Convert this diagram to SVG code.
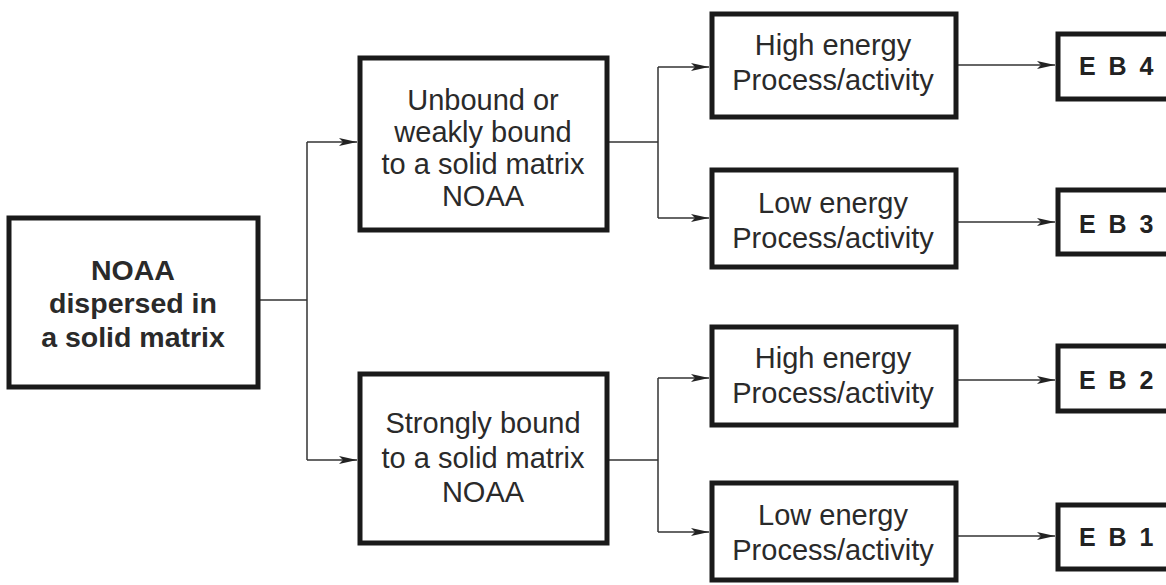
<svg xmlns="http://www.w3.org/2000/svg" width="1166" height="585" viewBox="0 0 1166 585">
<defs>
<marker id="ah" markerWidth="19" markerHeight="10" refX="18" refY="5" orient="auto" markerUnits="userSpaceOnUse">
<path d="M0,1 L18,5 L0,9 L4,5 Z" fill="#222"/>
</marker>
</defs>
<style>
.box{fill:#fff;stroke:#1a1a1a;stroke-width:5}
.t{font-family:"Liberation Sans",Arial,sans-serif;font-size:29px;fill:#2a2a2a;text-anchor:middle}
.b{font-weight:bold;font-size:28.5px}
.eb{font-family:"Liberation Sans",Arial,sans-serif;font-size:25px;font-weight:bold;fill:#222;letter-spacing:3px}
.c{fill:none;stroke:#333;stroke-width:1.5}
</style>
<rect width="1166" height="585" fill="#fff"/>
<g id="connectors">
<path class="c" d="M259,300 H307 M307,142 V460"/>
<path class="c" d="M307,142 H357" marker-end="url(#ah)"/>
<path class="c" d="M307,460 H357" marker-end="url(#ah)"/>
<path class="c" d="M608,142 H658 M658,67 V218"/>
<path class="c" d="M658,67 H709" marker-end="url(#ah)"/>
<path class="c" d="M658,218 H709" marker-end="url(#ah)"/>
<path class="c" d="M608,460 H658 M658,378 V532"/>
<path class="c" d="M658,378 H709" marker-end="url(#ah)"/>
<path class="c" d="M658,532 H709" marker-end="url(#ah)"/>
<path class="c" d="M957,65 H1055" marker-end="url(#ah)"/>
<path class="c" d="M957,222 H1055" marker-end="url(#ah)"/>
<path class="c" d="M957,380 H1055" marker-end="url(#ah)"/>
<path class="c" d="M957,536 H1055" marker-end="url(#ah)"/>
</g>
<g id="n-root">
<rect class="box" x="9" y="218" width="249" height="169"/>
<text class="t b" x="133" y="280">NOAA</text>
<text class="t b" x="133" y="313">dispersed in</text>
<text class="t b" x="133" y="347">a solid matrix</text>
</g>
<g id="n-unbound">
<rect class="box" x="360" y="58" width="247" height="172"/>
<text class="t" x="483" y="110">Unbound or</text>
<text class="t" x="483" y="142">weakly bound</text>
<text class="t" x="483" y="174">to a solid matrix</text>
<text class="t" x="483" y="206">NOAA</text>
</g>
<g id="n-strong">
<rect class="box" x="360" y="374" width="247" height="169"/>
<text class="t" x="483" y="433">Strongly bound</text>
<text class="t" x="483" y="468">to a solid matrix</text>
<text class="t" x="483" y="502">NOAA</text>
</g>
<g id="n-he1">
<rect class="box" x="712" y="14" width="244" height="103"/>
<text class="t" x="833" y="55">High energy</text>
<text class="t" x="833" y="90">Process/activity</text>
</g>
<g id="n-le1">
<rect class="box" x="712" y="170" width="244" height="97"/>
<text class="t" x="833" y="213">Low energy</text>
<text class="t" x="833" y="248">Process/activity</text>
</g>
<g id="n-he2">
<rect class="box" x="712" y="327" width="244" height="98"/>
<text class="t" x="833" y="368">High energy</text>
<text class="t" x="833" y="403">Process/activity</text>
</g>
<g id="n-le2">
<rect class="box" x="712" y="483" width="244" height="97"/>
<text class="t" x="833" y="525">Low energy</text>
<text class="t" x="833" y="560">Process/activity</text>
</g>
<g id="n-eb4">
<rect class="box" x="1058" y="34" width="120" height="65"/>
<text class="eb" x="1079" y="75">E B 4</text>
</g>
<g id="n-eb3">
<rect class="box" x="1058" y="190" width="120" height="64"/>
<text class="eb" x="1079" y="233">E B 3</text>
</g>
<g id="n-eb2">
<rect class="box" x="1058" y="346" width="120" height="65"/>
<text class="eb" x="1079" y="389">E B 2</text>
</g>
<g id="n-eb1">
<rect class="box" x="1058" y="505" width="120" height="64"/>
<text class="eb" x="1079" y="546">E B 1</text>
</g>
</svg>
